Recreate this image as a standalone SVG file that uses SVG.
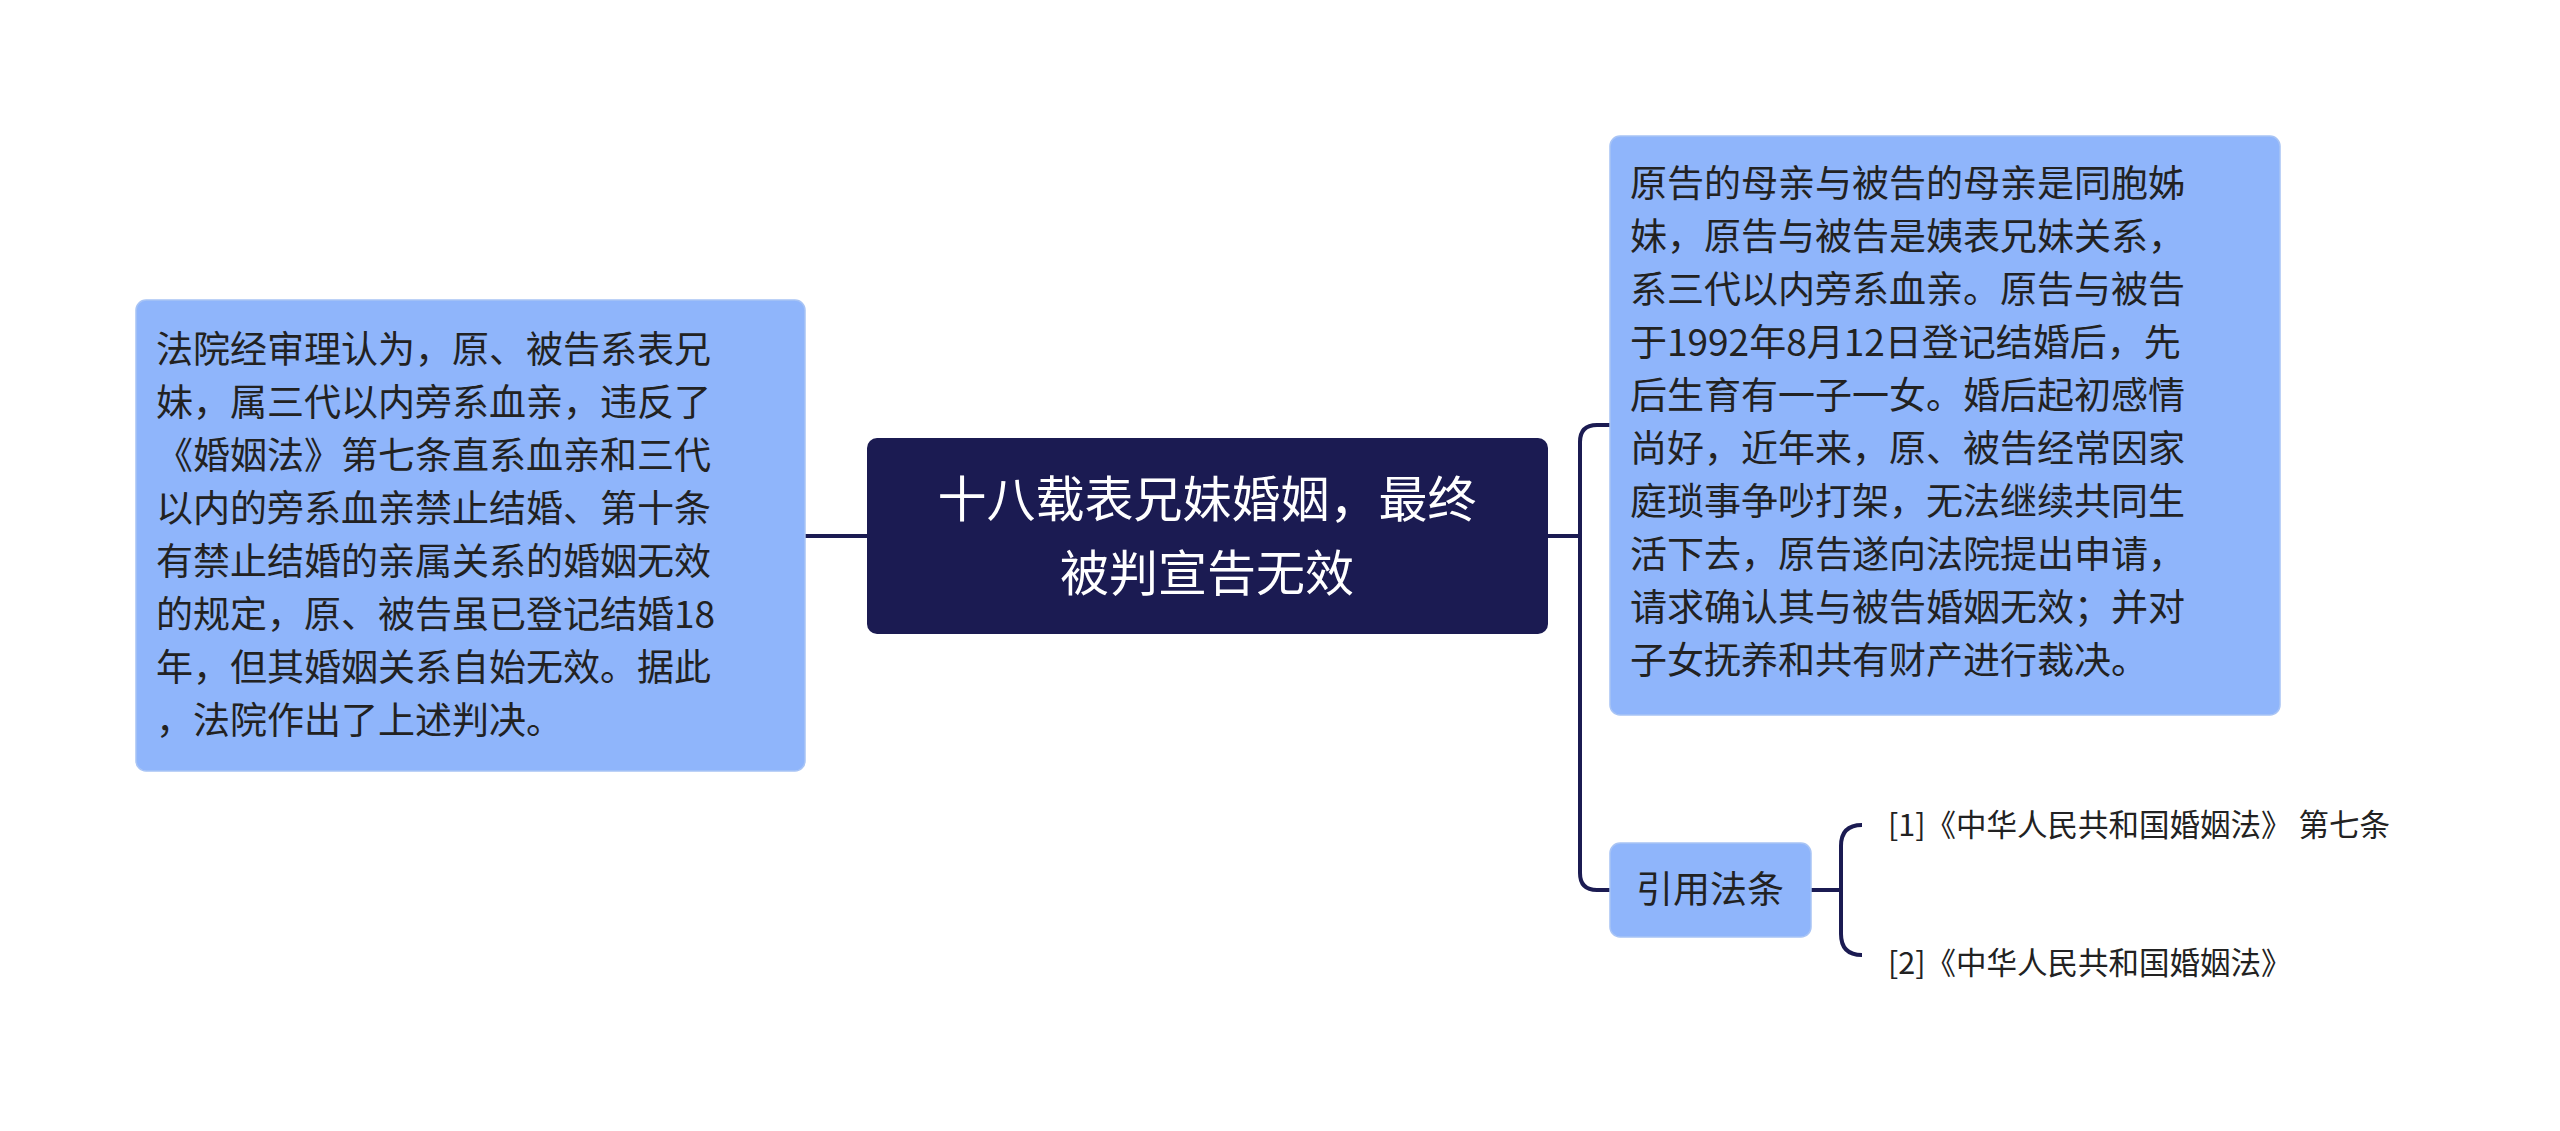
<svg xmlns="http://www.w3.org/2000/svg" width="2560" height="1131" viewBox="0 0 2560 1131">
<style>
text{font-family:"Noto Sans CJK SC","Noto Sans",sans-serif;fill:#222}
.n{fill:#8fb5fb;stroke:#a8c4f5;stroke-width:1.5}
.c{fill:none;stroke:#1b1b52;stroke-width:4}
.t{font-size:37px}
.l{font-size:30.5px}
</style>
<rect width="2560" height="1131" fill="#fff"/>
<g id="connectors">
<path class="c" d="M805 536H867"/>
<path class="c" d="M1548 536H1580M1610 425H1597Q1580 425 1580 442V873Q1580 890 1597 890H1610"/>
<path class="c" d="M1811 890H1841M1862 825Q1841 825 1841 846V934Q1841 955 1862 955"/>
</g>
<g id="center">
<rect x="867" y="438" width="681" height="196" rx="10" fill="#1b1b52"/>
<text x="1207" y="517" text-anchor="middle" font-size="49" style="fill:#fff">十八载表兄妹婚姻，最终</text>
<text x="1207" y="591" text-anchor="middle" font-size="49" style="fill:#fff">被判宣告无效</text>
</g>
<g id="left">
<rect class="n" x="136" y="300" width="669" height="471" rx="10"/>
<text class="t" x="156" y="363">法院经审理认为，原、被告系表兄</text>
<text class="t" x="156" y="416">妹，属三代以内旁系血亲，违反了</text>
<text class="t" x="156" y="469">《婚姻法》第七条直系血亲和三代</text>
<text class="t" x="156" y="522">以内的旁系血亲禁止结婚、第十条</text>
<text class="t" x="156" y="575">有禁止结婚的亲属关系的婚姻无效</text>
<text class="t" x="156" y="628">的规定，原、被告虽已登记结婚18</text>
<text class="t" x="156" y="681">年，但其婚姻关系自始无效。据此</text>
<text class="t" x="156" y="734">，法院作出了上述判决。</text>
</g>
<g id="right">
<rect class="n" x="1610" y="136" width="670" height="579" rx="10"/>
<text class="t" x="1630" y="197">原告的母亲与被告的母亲是同胞姊</text>
<text class="t" x="1630" y="250">妹，原告与被告是姨表兄妹关系，</text>
<text class="t" x="1630" y="303">系三代以内旁系血亲。原告与被告</text>
<text class="t" x="1630" y="356">于1992年8月12日登记结婚后，先</text>
<text class="t" x="1630" y="409">后生育有一子一女。婚后起初感情</text>
<text class="t" x="1630" y="462">尚好，近年来，原、被告经常因家</text>
<text class="t" x="1630" y="515">庭琐事争吵打架，无法继续共同生</text>
<text class="t" x="1630" y="568">活下去，原告遂向法院提出申请，</text>
<text class="t" x="1630" y="621">请求确认其与被告婚姻无效；并对</text>
<text class="t" x="1630" y="674">子女抚养和共有财产进行裁决。</text>
</g>
<g id="cite">
<rect class="n" x="1610" y="843" width="201" height="94" rx="10"/>
<text class="t" x="1710" y="903" text-anchor="middle">引用法条</text>
</g>
<g id="leaf1"><text class="l" x="1888" y="836">[1]《中华人民共和国婚姻法》 第七条</text></g>
<g id="leaf2"><text class="l" x="1888" y="974">[2]《中华人民共和国婚姻法》</text></g>
</svg>
